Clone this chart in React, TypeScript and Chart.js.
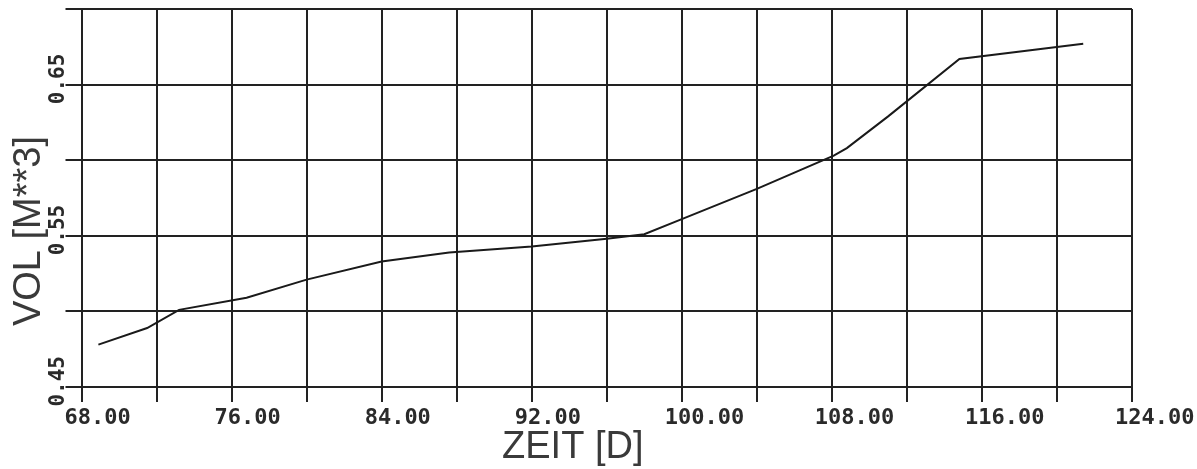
import { useEffect, useRef } from "react";
import { Chart, registerables } from "chart.js";

Chart.register(...registerables);

// volume curve (day, m**3)
const days = [68.9, 71.5, 73.2, 76.8, 80.0, 84.0, 87.6, 92.0, 96.0, 98.0, 100.0, 104.0, 108.1, 108.8, 111.0, 114.8, 121.4];
const volumes = [0.478, 0.489, 0.501, 0.509, 0.521, 0.533, 0.539, 0.543, 0.548, 0.551, 0.561, 0.581, 0.603, 0.608, 0.629, 0.667, 0.677];

const xTickLabels = ["68.00", "76.00", "84.00", "92.00", "100.00", "108.00", "116.00", "124.00"];
const yTickLabels = ["0.45", "0.55", "0.65"];

const xTitle = "ZEIT [D]";
const yTitle = "VOL [M**3]";

const ink = "#222";

// axis titles, placed like the plotter put them (a bit off-centre)
const titlesPlugin = {
  id: "plotterTitles",
  afterDraw(chart: any) {
    const { ctx, chartArea } = chart;
    ctx.save();
    ctx.fillStyle = "#3a3a3a";
    ctx.font = "38px 'Liberation Sans', Arial, sans-serif";
    ctx.textAlign = "center";
    ctx.textBaseline = "alphabetic";
    // x title
    const cx = (chartArea.left + chartArea.right) / 2 - 34;
    ctx.fillText(xTitle, cx, chartArea.bottom + 71);
    // y title
    const cy = (chartArea.top + chartArea.bottom) / 2 + 33;
    ctx.translate(40, cy);
    ctx.rotate(-Math.PI / 2);
    ctx.fillText(yTitle, 0, 0);
    ctx.restore();
  },
};

const VolumeChart = () => {
  const canvasRef = useRef<HTMLCanvasElement | null>(null);

  useEffect(() => {
    if (!canvasRef.current) return;

    const chart = new Chart(canvasRef.current, {
      type: "line",
      data: {
        datasets: [
          {
            label: "VOL",
            data: days.map((d, i) => ({ x: d, y: volumes[i] })),
            borderColor: "#1a1a1a",
            borderWidth: 2,
            pointRadius: 0,
            tension: 0,
            fill: false,
          },
        ],
      },
      options: {
        responsive: true,
        maintainAspectRatio: false,
        animation: false,
        layout: { padding: { left: 0, top: 9, right: 65, bottom: 0 } },
        plugins: {
          legend: { display: false },
          tooltip: { enabled: false },
        },
        scales: {
          x: {
            type: "linear",
            min: 68,
            max: 124,
            afterFit: (scale: any) => {
              scale.height = 82;
              scale.paddingLeft = 0;
              scale.paddingRight = 0;
            },
            border: { display: true, color: ink, width: 2 },
            grid: { color: ink, lineWidth: 2, tickLength: 15, tickColor: ink },
            ticks: {
              stepSize: 4,
              autoSkip: false,
              maxRotation: 0,
              align: "start",
              labelOffset: -17,
              padding: 3,
              color: "#2a2a2a",
              font: { family: "'DejaVu Sans Mono', monospace", size: 22, weight: "bold" },
              callback: (v: any) => {
                const s = Number(v).toFixed(2);
                return xTickLabels.includes(s) ? s : "";
              },
            },
          },
          y: {
            type: "linear",
            min: 0.45,
            max: 0.7,
            afterFit: (scale: any) => {
              scale.width = 81.5;
              scale.paddingTop = 0;
              scale.paddingBottom = 0;
            },
            border: { display: true, color: ink, width: 2 },
            grid: { color: ink, lineWidth: 2, tickLength: 16, tickColor: ink },
            ticks: {
              stepSize: 0.05,
              autoSkip: false,
              minRotation: 90,
              maxRotation: 90,
              crossAlign: "near",
              labelOffset: -31,
              padding: 7,
              color: "#2a2a2a",
              font: { family: "'DejaVu Sans Mono', monospace", size: 21, weight: "bold" },
              callback: (v: any) => {
                const s = Number(v).toFixed(2);
                return yTickLabels.includes(s) ? s : "";
              },
            },
          },
        },
      },
      plugins: [titlesPlugin],
    });

    return () => {
      chart.destroy();
    };
  }, []);

  return (
    <div style={{ position: "absolute", left: 0, top: 0, width: 1197, height: 469, background: "#fff" }}>
      <canvas ref={canvasRef}></canvas>
    </div>
  );
};

export default function App() {
  return <VolumeChart />;
}
